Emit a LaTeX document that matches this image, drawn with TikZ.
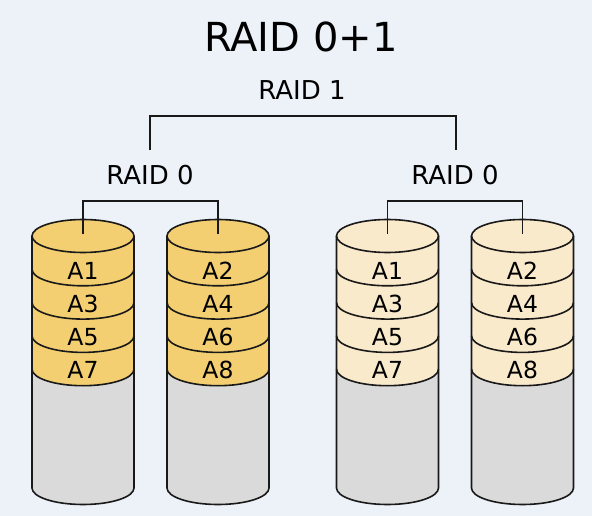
\documentclass[tikz,border=0pt]{standalone}
\usepackage{fontspec}
\setmainfont{DejaVu Sans}
\definecolor{bgc}{RGB}{237,242,249}
\definecolor{ydark}{RGB}{243,207,114}
\definecolor{ylight}{RGB}{250,234,204}
\definecolor{dgrey}{RGB}{218,218,218}
\definecolor{edge}{RGB}{25,25,25}
\tikzset{
  diskline/.style={draw=edge, line width=1.6pt},
  conn/.style={draw=edge, line width=1.3pt},
  disklabel/.style={inner sep=0pt, font=\fontsize{23.5}{23.5}\selectfont, text=black},
  raidlabel/.style={inner sep=0pt, font=\fontsize{26}{26}\selectfont, text=black},
  titlelabel/.style={inner sep=0pt, font=\fontsize{40}{40}\selectfont, text=black}
}
% #1 cx, #2 fill colour, #3 name prefix, #4..#7 labels
\newcommand{\drawdisk}[7]{%
  \fill[dgrey] (#1-51,-236) -- (#1-51,-488) arc[start angle=180,end angle=360,x radius=51,y radius=16.5] -- (#1+51,-236) -- cycle;
  \fill[#2] (#1-51,-236) -- (#1-51,-369.2) arc[start angle=180,end angle=360,x radius=51,y radius=16.5] -- (#1+51,-236) -- cycle;
  \filldraw[fill=#2, diskline] (#1,-236) ellipse[x radius=51, y radius=16.5];
  \foreach \yy in {269.3,302.6,335.9,369.2}{
    \draw[diskline] (#1-51,-\yy) arc[start angle=180,end angle=360,x radius=51,y radius=16.5];
  }
  \draw[diskline] (#1-51,-236) -- (#1-51,-488) arc[start angle=180,end angle=360,x radius=51,y radius=16.5] -- (#1+51,-236);
  \coordinate (#3top) at (#1,-234);
  \node[disklabel] (#3a) at (#1,-271) {#4};
  \node[disklabel] (#3b) at (#1,-304) {#5};
  \node[disklabel] (#3c) at (#1,-337) {#6};
  \node[disklabel] (#3d) at (#1,-370) {#7};
}
\begin{document}
\begin{tikzpicture}[x=1pt,y=1pt]
  \useasboundingbox (0,0) rectangle (592,-516);
  \fill[bgc] (0,0) rectangle (592,-516);

  \node[titlelabel] (title) at (301,-37) {RAID 0+1};
  \node[raidlabel] (raid1) at (302,-90) {RAID 1};
  \node[raidlabel] (raid0l) at (150,-175) {RAID 0};
  \node[raidlabel] (raid0r) at (455,-175) {RAID 0};

  \coordinate (r1l) at (150,-150);
  \coordinate (r1r) at (456,-150);
  \coordinate (r1m) at (303,-116);
  \draw[conn] (r1l) |- (r1m) -| (r1r);

  \drawdisk{83}{ydark}{d1}{A1}{A3}{A5}{A7}
  \drawdisk{218}{ydark}{d2}{A2}{A4}{A6}{A8}
  \drawdisk{387.5}{ylight}{d3}{A1}{A3}{A5}{A7}
  \drawdisk{522.5}{ylight}{d4}{A2}{A4}{A6}{A8}

  \coordinate (r0l) at (150,-201);
  \coordinate (r0r) at (455,-201);
  \draw[conn] (d1top) |- (r0l) -| (d2top);
  \draw[conn] (d3top) |- (r0r) -| (d4top);
\end{tikzpicture}
\end{document}
